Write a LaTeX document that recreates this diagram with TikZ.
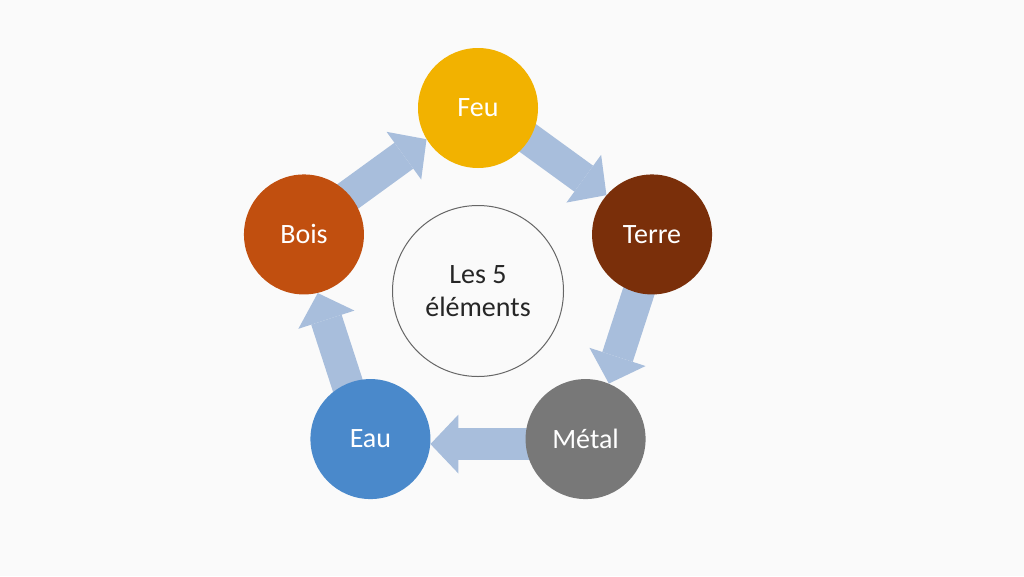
\documentclass[tikz,border=0pt]{standalone}
\usepackage{fontspec}
\setmainfont{Carlito}
\usetikzlibrary{arrows.meta,positioning,calc,backgrounds}
\definecolor{pagebg}{HTML}{FAFAFA}
\definecolor{feucol}{HTML}{F2B200}
\definecolor{terrecol}{HTML}{7A2F0A}
\definecolor{metalcol}{HTML}{787878}
\definecolor{eaucol}{HTML}{4A89CB}
\definecolor{boiscol}{HTML}{C14F0F}
\definecolor{arrowcol}{HTML}{A8BEDC}

\begin{document}
\begin{tikzpicture}[x=1pt,y=-1pt,
  element/.style={circle,minimum size=120pt,inner sep=0pt,outer sep=0pt,text=white,
    font=\fontsize{28}{33}\selectfont},
  hub/.style={circle,draw=black!60,line width=1pt,minimum size=171pt,inner sep=0pt,
    outer sep=0pt,align=center,text=black!85,font=\fontsize{28}{33}\selectfont},
  cyclearrow/.style={arrowcol,line width=32pt,
    -{Triangle[length=28pt,width=59pt,line width=0pt]}}]
  \useasboundingbox (0,0) rectangle (1024,576);
  \coordinate (centre) at (478,291);
  \node[hub] (les5) at (centre) {Les 5\\éléments};
  \foreach \n/\a/\c/\t in {feu/-90/feucol/Feu, terre/-18/terrecol/Terre,
      metal/54/metalcol/Métal, eau/126/eaucol/Eau, bois/198/boiscol/Bois} {
    \node[element,fill=\c] (\n) at ($(centre)+(\a:183)$) {\t};
  }
  \begin{pgfonlayer}{background}
    \fill[pagebg] (0,0) rectangle (1024,576);
    % arrows sit a little outside the chords
    \foreach \s/\e in {feu/terre, terre/metal, metal/eau, eau/bois, bois/feu} {
      \draw[cyclearrow,transform canvas={shift={($(centre)!5pt!($(\s.center)!0.5!(\e.center)$)-(centre)$)}}]
        (\s.center) -- (\e);
    }
  \end{pgfonlayer}
\end{tikzpicture}
\end{document}
